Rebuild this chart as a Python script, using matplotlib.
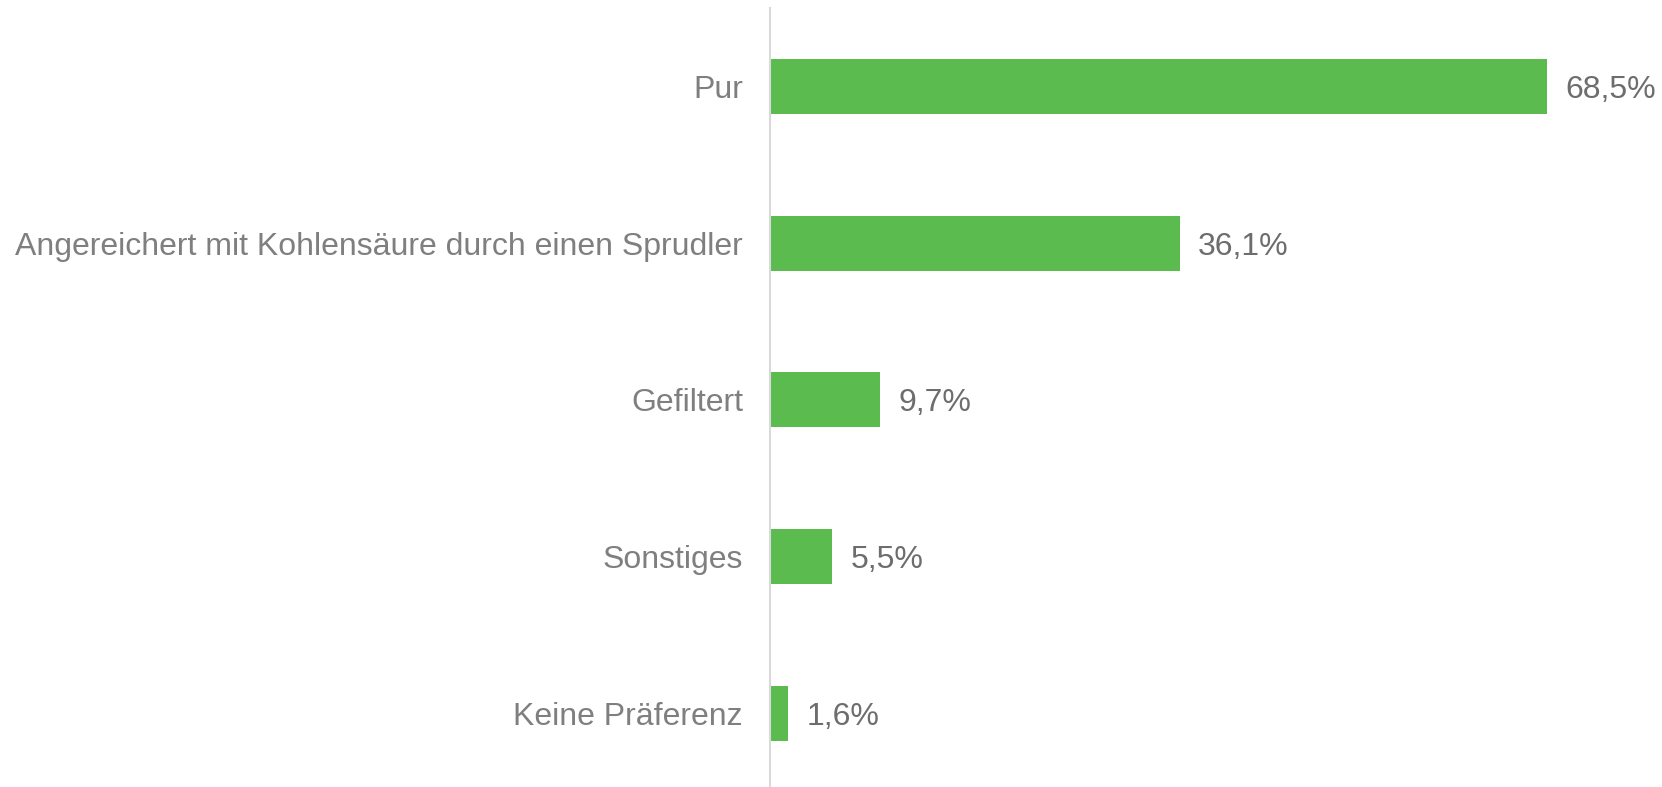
import matplotlib.pyplot as plt

plt.rcParams['font.family'] = ['Liberation Sans', 'DejaVu Sans']

# Data
categories = ['Pur', 'Angereichert mit Kohlensäure durch einen Sprudler',
              'Gefiltert', 'Sonstiges', 'Keine Präferenz']
values = [68.5, 36.1, 9.7, 5.5, 1.6]
labels = ['68,5%', '36,1%', '9,7%', '5,5%', '1,6%']

fig = plt.figure(figsize=(16.62, 7.87), dpi=100)
ax = fig.add_axes([0.4633, 0.0, 0.5367, 0.9898])

ypos = range(len(categories))
ax.barh(ypos, values, height=0.35, color='#5BBB4F')

ax.set_xlim(0, 78.6)
ax.set_ylim(4.47, -0.5)

ax.set_yticks(list(ypos))
ax.set_yticklabels(categories, fontsize=23, color='#7f7f7f')
ax.tick_params(axis='y', length=0, pad=19.5)
ax.set_xticks([])

for s in ['top', 'right', 'bottom']:
    ax.spines[s].set_visible(False)
ax.spines['left'].set_color('#d9d9d9')
ax.spines['left'].set_linewidth(1.5)

for y, v, lab in zip(ypos, values, labels):
    ax.annotate(lab, (v, y), xytext=(18, 0), textcoords='offset pixels',
                va='center_baseline', ha='left', fontsize=23, color='#6d6d6d')

fig.savefig('out.png', dpi=100)
